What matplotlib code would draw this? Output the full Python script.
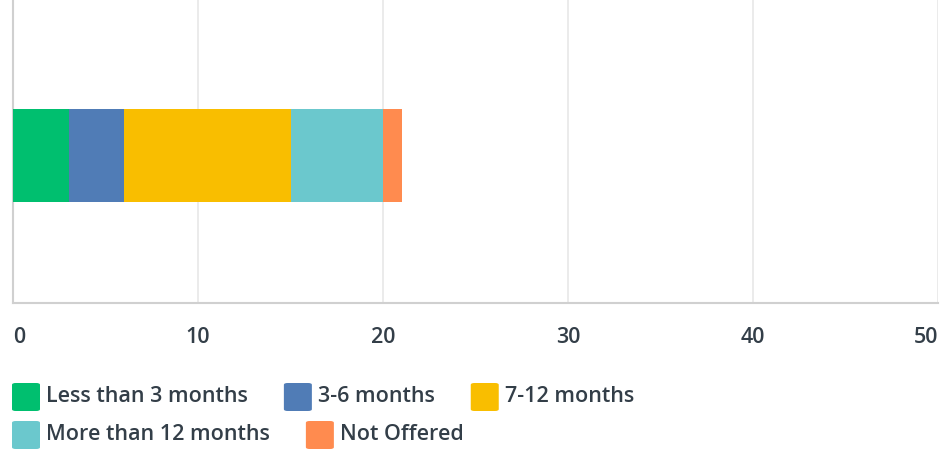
import matplotlib
matplotlib.use("Agg")
import matplotlib.pyplot as plt
from matplotlib.patches import FancyBboxPatch

categories = ["Less than 3 months", "3-6 months", "7-12 months",
              "More than 12 months", "Not Offered"]
values = [3, 3, 9, 5, 1]
colors = ["#00bf6f", "#507cb6", "#f9be00", "#6bc8cd", "#ff8b4f"]
xticks = [0, 10, 20, 30, 40, 50]

W, H = 943, 450
FONT = dict(fontfamily="Open Sans", fontweight="semibold")
fig = plt.figure(figsize=(W / 100, H / 100), dpi=100)
ax = fig.add_axes([13 / W, 1 - 303 / H, (938 - 13) / W, 303 / H])

left = 0
for v, c, name in zip(values, colors, categories):
    ax.barh(0, v, left=left, color=c, height=0.307, label=name, zorder=3)
    left += v

ax.set_xlim(0, 50)
ax.set_ylim(-0.487, 0.513)
ax.set_yticks([])
ax.set_xticks(xticks)
ax.grid(axis="x", color="#e8e8e8", linewidth=1.2, zorder=0)
for s in ["top", "right"]:
    ax.spines[s].set_visible(False)
for s in ["left", "bottom"]:
    ax.spines[s].set_color("#d0d0d0")
    ax.spines[s].set_linewidth(1.5)
ax.tick_params(axis="x", length=0, pad=17, labelsize=15.5, labelcolor="#333e48")
ax.set_xticklabels([str(t) for t in xticks], **FONT)
labels = ax.get_xticklabels()
labels[0].set_ha("left")
labels[-1].set_ha("right")

# custom flow legend
fig.canvas.draw()
r = fig.canvas.get_renderer()
rows = [[0, 1, 2], [3, 4]]
row_y = [397, 435]
psz = 28
for row, yc in zip(rows, row_y):
    x = 12
    for i in row:
        p = FancyBboxPatch((x / W, (H - yc - psz / 2) / H), psz / W, psz / H,
                           boxstyle="round,pad=0,rounding_size=0.004",
                           transform=fig.transFigure, facecolor=colors[i],
                           edgecolor="none")
        fig.patches.append(p)
        t = fig.text((x + psz + 6) / W, (H - yc) / H, categories[i],
                     fontsize=15.5, color="#333e48", va="center", ha="left", **FONT)
        bb = t.get_window_extent(renderer=r)
        x = bb.x1 + 36

fig.savefig("out.png", dpi=100)
